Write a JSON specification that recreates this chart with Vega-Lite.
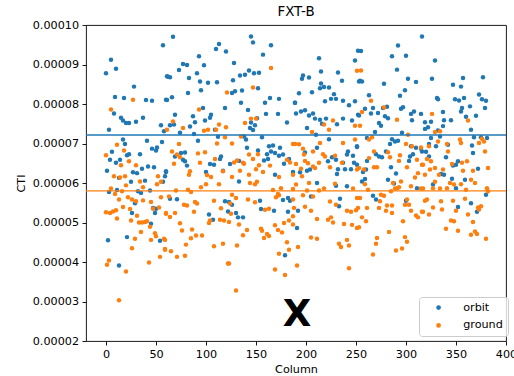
{
  "$schema": "https://vega.github.io/schema/vega-lite/v6.json",
  "width": 420,
  "height": 316,
  "autosize": "none",
  "padding": {"left": 86, "top": 25, "right": 8, "bottom": 35},
  "background": "white",
  "config": {
    "font": "DejaVu Sans",
    "view": {"stroke": "#000", "strokeWidth": 0.9},
    "axis": {
      "grid": false,
      "domain": false,
      "tickColor": "#000",
      "tickWidth": 0.9,
      "tickSize": 4,
      "labelColor": "#000",
      "labelFontSize": 11.2,
      "labelPadding": 3.5,
      "labelFlush": false,
      "labelOverlap": false,
      "titleColor": "#000",
      "titleFontSize": 11.2,
      "titleFontWeight": "normal"
    }
  },
  "title": {"text": "FXT-B", "fontSize": 13.4, "fontWeight": "normal", "color": "#000", "offset": 1},
  "datasets": {
    "orbit": [
      {"c":57,"v":9.49e-5},{"c":5,"v":9.12e-5},{"c":0,"v":8.78e-5},{"c":10,"v":8.89e-5},{"c":61,"v":8.70e-5},{"c":28,"v":8.44e-5},{"c":9,"v":8.18e-5},{"c":18,"v":8.15e-5},{"c":40,"v":8.10e-5},{"c":46,"v":8.08e-5},
      {"c":60,"v":8.11e-5},{"c":8,"v":7.76e-5},{"c":15,"v":7.65e-5},{"c":17,"v":7.58e-5},{"c":20,"v":7.52e-5},{"c":23,"v":7.52e-5},{"c":30,"v":7.55e-5},{"c":37,"v":7.65e-5},{"c":3,"v":7.35e-5},{"c":55,"v":7.46e-5},
      {"c":58,"v":7.31e-5},{"c":56,"v":7.04e-5},{"c":17,"v":7.10e-5},{"c":19,"v":6.99e-5},{"c":41,"v":7.07e-5},{"c":51,"v":6.90e-5},{"c":46,"v":6.87e-5},{"c":50,"v":6.82e-5},{"c":6,"v":6.79e-5},{"c":23,"v":6.73e-5},
      {"c":21,"v":6.70e-5},{"c":34,"v":6.73e-5},{"c":4,"v":6.59e-5},{"c":10,"v":6.51e-5},{"c":14,"v":6.59e-5},{"c":48,"v":6.40e-5},{"c":42,"v":6.42e-5},{"c":1,"v":6.31e-5},{"c":27,"v":6.27e-5},{"c":31,"v":6.25e-5},
      {"c":36,"v":6.36e-5},{"c":60,"v":6.28e-5},{"c":59,"v":6.17e-5},{"c":13,"v":6.13e-5},{"c":25,"v":6.03e-5},{"c":39,"v":6.06e-5},{"c":57,"v":6.03e-5},{"c":3,"v":5.77e-5},{"c":11,"v":5.82e-5},{"c":32,"v":5.79e-5},
      {"c":35,"v":5.75e-5},{"c":44,"v":5.81e-5},{"c":29,"v":5.49e-5},{"c":47,"v":5.37e-5},{"c":50,"v":5.35e-5},{"c":45,"v":4.97e-5},{"c":49,"v":5.24e-5},{"c":26,"v":5.24e-5},{"c":2,"v":4.55e-5},{"c":21,"v":4.63e-5},
      {"c":54,"v":4.54e-5},{"c":13,"v":3.91e-5},
      {"c":67,"v":9.70e-5},{"c":113,"v":9.52e-5},{"c":110,"v":9.39e-5},{"c":120,"v":9.33e-5},{"c":93,"v":9.21e-5},{"c":77,"v":9.01e-5},{"c":81,"v":8.99e-5},{"c":98,"v":8.98e-5},{"c":73,"v":8.86e-5},{"c":62,"v":8.69e-5},
      {"c":64,"v":8.68e-5},{"c":91,"v":8.78e-5},{"c":83,"v":8.66e-5},{"c":94,"v":8.57e-5},{"c":102,"v":8.54e-5},{"c":111,"v":8.55e-5},{"c":95,"v":8.35e-5},{"c":82,"v":8.28e-5},{"c":61,"v":8.10e-5},{"c":66,"v":8.17e-5},
      {"c":97,"v":7.90e-5},{"c":119,"v":7.90e-5},{"c":69,"v":7.73e-5},{"c":87,"v":7.69e-5},{"c":105,"v":7.73e-5},{"c":104,"v":7.65e-5},{"c":99,"v":7.58e-5},{"c":89,"v":7.54e-5},{"c":64,"v":7.46e-5},{"c":68,"v":7.48e-5},
      {"c":84,"v":7.43e-5},{"c":109,"v":7.35e-5},{"c":74,"v":7.27e-5},{"c":88,"v":7.24e-5},{"c":112,"v":7.17e-5},{"c":92,"v":7.07e-5},{"c":79,"v":6.77e-5},{"c":75,"v":6.76e-5},{"c":69,"v":6.67e-5},{"c":77,"v":6.59e-5},
      {"c":79,"v":6.55e-5},{"c":81,"v":6.44e-5},{"c":104,"v":6.48e-5},{"c":108,"v":6.46e-5},{"c":114,"v":6.61e-5},{"c":115,"v":6.67e-5},{"c":117,"v":6.31e-5},{"c":124,"v":6.48e-5},{"c":100,"v":6.28e-5},{"c":60,"v":6.30e-5},
      {"c":64,"v":5.60e-5},{"c":71,"v":5.59e-5},{"c":119,"v":5.54e-5},{"c":123,"v":5.52e-5},{"c":122,"v":5.28e-5},{"c":103,"v":5.20e-5},{"c":107,"v":5.07e-5},
      {"c":145,"v":9.71e-5},{"c":147,"v":9.56e-5},{"c":165,"v":9.49e-5},{"c":157,"v":9.25e-5},{"c":128,"v":9.04e-5},{"c":127,"v":8.60e-5},{"c":134,"v":8.72e-5},{"c":139,"v":8.74e-5},{"c":143,"v":8.85e-5},{"c":148,"v":8.78e-5},
      {"c":153,"v":8.79e-5},{"c":152,"v":8.40e-5},{"c":126,"v":8.28e-5},{"c":129,"v":8.32e-5},{"c":136,"v":8.34e-5},{"c":135,"v":8.03e-5},{"c":159,"v":8.03e-5},{"c":164,"v":8.15e-5},{"c":173,"v":8.13e-5},{"c":189,"v":8.03e-5},
      {"c":142,"v":7.85e-5},{"c":160,"v":7.75e-5},{"c":172,"v":7.75e-5},{"c":151,"v":7.64e-5},{"c":145,"v":7.53e-5},{"c":149,"v":7.46e-5},{"c":144,"v":7.39e-5},{"c":147,"v":7.34e-5},{"c":181,"v":7.53e-5},{"c":138,"v":7.18e-5},
      {"c":140,"v":7.10e-5},{"c":156,"v":7.16e-5},{"c":141,"v":6.89e-5},{"c":152,"v":6.82e-5},{"c":163,"v":6.93e-5},{"c":167,"v":6.95e-5},{"c":174,"v":6.89e-5},{"c":161,"v":6.73e-5},{"c":165,"v":6.80e-5},{"c":169,"v":6.76e-5},
      {"c":173,"v":6.69e-5},{"c":177,"v":6.72e-5},{"c":133,"v":6.56e-5},{"c":158,"v":6.57e-5},{"c":162,"v":6.61e-5},{"c":178,"v":6.49e-5},{"c":183,"v":6.61e-5},{"c":187,"v":6.28e-5},{"c":169,"v":6.21e-5},{"c":133,"v":6.04e-5},
      {"c":154,"v":5.55e-5},{"c":177,"v":5.57e-5},{"c":182,"v":5.62e-5},{"c":184,"v":5.55e-5},{"c":126,"v":5.45e-5},{"c":130,"v":5.24e-5},{"c":155,"v":5.34e-5},{"c":168,"v":5.30e-5},{"c":182,"v":5.27e-5},{"c":132,"v":5.13e-5},
      {"c":137,"v":5.13e-5},{"c":179,"v":4.17e-5},
      {"c":252,"v":9.35e-5},{"c":213,"v":9.16e-5},{"c":249,"v":9.10e-5},{"c":215,"v":8.82e-5},{"c":232,"v":8.80e-5},{"c":197,"v":8.72e-5},{"c":196,"v":8.64e-5},{"c":203,"v":8.67e-5},{"c":236,"v":8.59e-5},{"c":253,"v":8.57e-5},
      {"c":215,"v":8.52e-5},{"c":218,"v":8.43e-5},{"c":223,"v":8.42e-5},{"c":193,"v":8.27e-5},{"c":206,"v":8.30e-5},{"c":228,"v":8.25e-5},{"c":214,"v":8.40e-5},{"c":225,"v":8.13e-5},{"c":230,"v":8.13e-5},{"c":219,"v":8.07e-5},
      {"c":237,"v":8.08e-5},{"c":249,"v":8.07e-5},{"c":243,"v":7.97e-5},{"c":189,"v":8.03e-5},{"c":195,"v":7.81e-5},{"c":199,"v":7.84e-5},{"c":190,"v":7.76e-5},{"c":203,"v":7.71e-5},{"c":207,"v":7.76e-5},{"c":209,"v":7.63e-5},
      {"c":214,"v":7.60e-5},{"c":220,"v":7.63e-5},{"c":237,"v":7.63e-5},{"c":246,"v":7.58e-5},{"c":252,"v":7.73e-5},{"c":216,"v":7.50e-5},{"c":231,"v":7.49e-5},{"c":201,"v":7.39e-5},{"c":210,"v":7.22e-5},{"c":223,"v":7.11e-5},
      {"c":251,"v":6.91e-5},{"c":211,"v":6.89e-5},{"c":199,"v":6.77e-5},{"c":242,"v":6.80e-5},{"c":247,"v":6.69e-5},{"c":241,"v":6.72e-5},{"c":226,"v":6.65e-5},{"c":222,"v":6.55e-5},{"c":230,"v":6.59e-5},{"c":248,"v":6.51e-5},
      {"c":237,"v":6.51e-5},{"c":201,"v":6.31e-5},{"c":204,"v":6.34e-5},{"c":194,"v":6.27e-5},{"c":232,"v":6.35e-5},{"c":239,"v":6.35e-5},{"c":245,"v":6.35e-5},{"c":251,"v":6.46e-5},{"c":231,"v":6.23e-5},{"c":211,"v":6.00e-5},
      {"c":230,"v":5.93e-5},{"c":241,"v":5.92e-5},{"c":205,"v":5.66e-5},{"c":234,"v":5.60e-5},{"c":233,"v":5.41e-5},{"c":192,"v":5.30e-5},{"c":191,"v":4.86e-5},
      {"c":316,"v":9.71e-5},{"c":255,"v":9.34e-5},{"c":292,"v":9.48e-5},{"c":286,"v":9.21e-5},{"c":300,"v":9.22e-5},{"c":291,"v":8.87e-5},{"c":254,"v":8.59e-5},{"c":256,"v":8.57e-5},{"c":302,"v":8.64e-5},{"c":310,"v":8.56e-5},
      {"c":278,"v":8.51e-5},{"c":299,"v":8.35e-5},{"c":294,"v":8.21e-5},{"c":263,"v":8.22e-5},{"c":281,"v":7.93e-5},{"c":267,"v":7.90e-5},{"c":259,"v":7.88e-5},{"c":277,"v":7.90e-5},{"c":295,"v":7.88e-5},{"c":297,"v":7.92e-5},
      {"c":308,"v":7.81e-5},{"c":315,"v":7.75e-5},{"c":265,"v":7.76e-5},{"c":272,"v":7.77e-5},{"c":253,"v":7.71e-5},{"c":279,"v":7.69e-5},{"c":282,"v":7.64e-5},{"c":305,"v":7.75e-5},{"c":306,"v":7.59e-5},{"c":273,"v":7.52e-5},
      {"c":275,"v":7.45e-5},{"c":269,"v":7.29e-5},{"c":296,"v":7.27e-5},{"c":261,"v":7.14e-5},{"c":286,"v":7.11e-5},{"c":289,"v":7.05e-5},{"c":292,"v":7.07e-5},{"c":284,"v":6.99e-5},{"c":305,"v":6.93e-5},{"c":310,"v":6.89e-5},
      {"c":315,"v":6.87e-5},{"c":251,"v":6.93e-5},{"c":280,"v":6.80e-5},{"c":270,"v":6.73e-5},{"c":273,"v":6.67e-5},{"c":276,"v":6.65e-5},{"c":304,"v":6.67e-5},{"c":307,"v":6.73e-5},{"c":303,"v":6.56e-5},{"c":261,"v":6.56e-5},
      {"c":260,"v":6.34e-5},{"c":257,"v":6.28e-5},{"c":285,"v":6.40e-5},{"c":290,"v":6.24e-5},{"c":282,"v":6.08e-5},{"c":259,"v":6.10e-5},{"c":256,"v":6.04e-5},{"c":288,"v":5.99e-5},{"c":267,"v":5.68e-5},{"c":270,"v":5.58e-5},
      {"c":300,"v":5.55e-5},{"c":311,"v":5.87e-5},
      {"c":329,"v":9.10e-5},{"c":326,"v":8.64e-5},{"c":357,"v":8.66e-5},{"c":377,"v":8.68e-5},{"c":347,"v":8.49e-5},{"c":355,"v":8.44e-5},{"c":331,"v":8.15e-5},{"c":332,"v":8.12e-5},{"c":373,"v":8.24e-5},{"c":349,"v":8.12e-5},
      {"c":353,"v":8.09e-5},{"c":358,"v":8.15e-5},{"c":376,"v":8.12e-5},{"c":380,"v":8.08e-5},{"c":379,"v":7.90e-5},{"c":364,"v":7.94e-5},{"c":356,"v":7.90e-5},{"c":355,"v":7.81e-5},{"c":360,"v":7.68e-5},{"c":370,"v":7.70e-5},
      {"c":337,"v":7.80e-5},{"c":345,"v":7.59e-5},{"c":338,"v":7.59e-5},{"c":325,"v":7.55e-5},{"c":319,"v":7.54e-5},{"c":337,"v":7.44e-5},{"c":322,"v":7.41e-5},{"c":319,"v":7.37e-5},{"c":332,"v":7.33e-5},{"c":365,"v":7.35e-5},
      {"c":334,"v":7.18e-5},{"c":325,"v":7.14e-5},{"c":368,"v":7.16e-5},{"c":375,"v":7.16e-5},{"c":381,"v":7.14e-5},{"c":323,"v":6.99e-5},{"c":330,"v":6.93e-5},{"c":342,"v":6.97e-5},{"c":366,"v":6.95e-5},{"c":316,"v":6.80e-5},
      {"c":320,"v":6.79e-5},{"c":367,"v":6.76e-5},{"c":323,"v":6.67e-5},{"c":340,"v":6.65e-5},{"c":350,"v":6.46e-5},{"c":347,"v":6.44e-5},{"c":352,"v":6.55e-5},{"c":372,"v":6.36e-5},{"c":335,"v":6.23e-5},{"c":338,"v":6.21e-5},
      {"c":346,"v":6.11e-5},{"c":359,"v":6.08e-5},{"c":327,"v":5.96e-5},{"c":350,"v":5.87e-5},{"c":380,"v":5.70e-5},{"c":365,"v":5.49e-5},{"c":352,"v":5.39e-5},{"c":371,"v":5.27e-5}
    ],
    "ground": [
      {"c":27,"v":8.11e-5},{"c":5,"v":7.86e-5},{"c":11,"v":6.97e-5},{"c":0,"v":6.70e-5},{"c":18,"v":6.82e-5},{"c":23,"v":6.55e-5},{"c":15,"v":6.45e-5},{"c":30,"v":6.45e-5},{"c":8,"v":6.17e-5},{"c":19,"v":6.17e-5},
      {"c":14,"v":6.14e-5},{"c":52,"v":6.17e-5},{"c":20,"v":5.94e-5},{"c":34,"v":6.04e-5},{"c":37,"v":5.89e-5},{"c":51,"v":5.97e-5},{"c":55,"v":6.03e-5},{"c":5,"v":5.86e-5},{"c":9,"v":5.72e-5},{"c":16,"v":5.79e-5},
      {"c":13,"v":5.58e-5},{"c":22,"v":5.64e-5},{"c":26,"v":5.58e-5},{"c":30,"v":5.54e-5},{"c":37,"v":5.56e-5},{"c":45,"v":5.52e-5},{"c":55,"v":5.64e-5},{"c":17,"v":5.39e-5},{"c":24,"v":5.34e-5},{"c":47,"v":5.35e-5},
      {"c":53,"v":5.38e-5},{"c":0,"v":5.26e-5},{"c":4,"v":5.24e-5},{"c":7,"v":5.28e-5},{"c":10,"v":5.31e-5},{"c":60,"v":5.22e-5},{"c":11,"v":5.10e-5},{"c":25,"v":5.05e-5},{"c":31,"v":5.17e-5},{"c":33,"v":5.00e-5},
      {"c":36,"v":5.00e-5},{"c":39,"v":5.01e-5},{"c":41,"v":5.03e-5},{"c":44,"v":4.89e-5},{"c":35,"v":4.76e-5},{"c":29,"v":4.59e-5},{"c":45,"v":4.56e-5},{"c":49,"v":4.73e-5},{"c":50,"v":4.65e-5},{"c":58,"v":4.59e-5},
      {"c":26,"v":4.35e-5},{"c":59,"v":4.31e-5},{"c":54,"v":4.13e-5},{"c":3,"v":4.04e-5},{"c":1,"v":3.93e-5},{"c":43,"v":3.99e-5},{"c":20,"v":3.76e-5},{"c":13,"v":3.03e-5},
      {"c":121,"v":8.29e-5},{"c":93,"v":7.86e-5},{"c":67,"v":7.56e-5},{"c":61,"v":7.35e-5},{"c":77,"v":7.39e-5},{"c":113,"v":7.48e-5},{"c":120,"v":7.41e-5},{"c":98,"v":7.32e-5},{"c":102,"v":7.35e-5},{"c":110,"v":7.35e-5},
      {"c":73,"v":6.99e-5},{"c":111,"v":7.00e-5},{"c":119,"v":7.16e-5},{"c":66,"v":6.80e-5},{"c":92,"v":6.75e-5},{"c":99,"v":6.78e-5},{"c":71,"v":6.72e-5},{"c":74,"v":6.65e-5},{"c":68,"v":6.49e-5},{"c":94,"v":6.51e-5},
      {"c":109,"v":6.61e-5},{"c":84,"v":6.30e-5},{"c":83,"v":6.21e-5},{"c":101,"v":6.20e-5},{"c":105,"v":6.15e-5},{"c":113,"v":5.97e-5},{"c":117,"v":6.30e-5},{"c":95,"v":5.89e-5},{"c":100,"v":5.97e-5},{"c":70,"v":5.81e-5},
      {"c":82,"v":5.83e-5},{"c":85,"v":5.77e-5},{"c":63,"v":5.66e-5},{"c":78,"v":5.45e-5},{"c":81,"v":5.43e-5},{"c":89,"v":5.52e-5},{"c":91,"v":5.48e-5},{"c":108,"v":5.55e-5},{"c":115,"v":5.36e-5},{"c":60,"v":5.24e-5},
      {"c":64,"v":5.14e-5},{"c":69,"v":5.24e-5},{"c":88,"v":5.27e-5},{"c":103,"v":4.99e-5},{"c":104,"v":5.05e-5},{"c":114,"v":5.07e-5},{"c":118,"v":5.05e-5},{"c":123,"v":5.01e-5},{"c":74,"v":4.98e-5},{"c":76,"v":4.80e-5},
      {"c":86,"v":4.82e-5},{"c":90,"v":4.67e-5},{"c":96,"v":4.67e-5},{"c":85,"v":4.60e-5},{"c":80,"v":4.44e-5},{"c":108,"v":4.40e-5},{"c":117,"v":4.46e-5},{"c":59,"v":4.56e-5},{"c":65,"v":4.27e-5},{"c":71,"v":4.13e-5},
      {"c":79,"v":4.16e-5},{"c":122,"v":3.96e-5},{"c":59,"v":4.33e-5},
      {"c":165,"v":8.91e-5},{"c":147,"v":8.42e-5},{"c":145,"v":7.63e-5},{"c":150,"v":7.63e-5},{"c":139,"v":7.52e-5},{"c":135,"v":7.18e-5},{"c":126,"v":7.00e-5},{"c":187,"v":6.99e-5},{"c":143,"v":6.72e-5},{"c":147,"v":6.61e-5},
      {"c":152,"v":6.73e-5},{"c":128,"v":6.52e-5},{"c":131,"v":6.57e-5},{"c":137,"v":6.51e-5},{"c":138,"v":6.49e-5},{"c":153,"v":6.45e-5},{"c":164,"v":6.44e-5},{"c":181,"v":6.59e-5},{"c":184,"v":6.52e-5},{"c":150,"v":6.35e-5},
      {"c":157,"v":6.28e-5},{"c":134,"v":6.31e-5},{"c":143,"v":6.21e-5},{"c":126,"v":6.15e-5},{"c":173,"v":6.15e-5},{"c":144,"v":6.00e-5},{"c":149,"v":5.97e-5},{"c":151,"v":6.03e-5},{"c":167,"v":5.82e-5},{"c":175,"v":5.87e-5},
      {"c":187,"v":5.85e-5},{"c":172,"v":5.72e-5},{"c":126,"v":5.70e-5},{"c":130,"v":5.62e-5},{"c":142,"v":5.58e-5},{"c":149,"v":5.51e-5},{"c":170,"v":5.64e-5},{"c":173,"v":5.69e-5},{"c":187,"v":5.58e-5},{"c":124,"v":5.48e-5},
      {"c":159,"v":5.32e-5},{"c":163,"v":5.35e-5},{"c":125,"v":5.22e-5},{"c":188,"v":5.37e-5},{"c":133,"v":4.95e-5},{"c":141,"v":4.81e-5},{"c":137,"v":4.68e-5},{"c":155,"v":4.84e-5},{"c":156,"v":4.79e-5},{"c":161,"v":4.71e-5},
      {"c":163,"v":4.66e-5},{"c":158,"v":4.61e-5},{"c":169,"v":4.93e-5},{"c":172,"v":4.81e-5},{"c":176,"v":4.75e-5},{"c":178,"v":4.99e-5},{"c":183,"v":5.05e-5},{"c":187,"v":4.95e-5},{"c":131,"v":4.42e-5},{"c":181,"v":4.50e-5},
      {"c":183,"v":4.31e-5},{"c":173,"v":4.21e-5},{"c":123,"v":3.96e-5},{"c":169,"v":3.81e-5},{"c":179,"v":3.67e-5},{"c":130,"v":3.28e-5},
      {"c":251,"v":8.84e-5},{"c":227,"v":7.58e-5},{"c":218,"v":7.48e-5},{"c":223,"v":7.35e-5},{"c":249,"v":7.45e-5},{"c":206,"v":7.29e-5},{"c":189,"v":6.99e-5},{"c":193,"v":6.98e-5},{"c":214,"v":7.01e-5},{"c":237,"v":7.01e-5},
      {"c":249,"v":7.10e-5},{"c":197,"v":6.87e-5},{"c":207,"v":6.80e-5},{"c":198,"v":6.72e-5},{"c":217,"v":6.73e-5},{"c":219,"v":6.67e-5},{"c":229,"v":6.69e-5},{"c":190,"v":6.48e-5},{"c":199,"v":6.56e-5},{"c":202,"v":6.50e-5},
      {"c":207,"v":6.42e-5},{"c":209,"v":6.38e-5},{"c":213,"v":6.51e-5},{"c":224,"v":6.40e-5},{"c":236,"v":6.51e-5},{"c":251,"v":6.34e-5},{"c":195,"v":6.36e-5},{"c":196,"v":6.17e-5},{"c":187,"v":6.21e-5},{"c":203,"v":6.00e-5},
      {"c":190,"v":5.96e-5},{"c":213,"v":5.81e-5},{"c":218,"v":5.86e-5},{"c":229,"v":5.98e-5},{"c":247,"v":5.86e-5},{"c":201,"v":5.81e-5},{"c":197,"v":5.69e-5},{"c":207,"v":5.66e-5},{"c":251,"v":5.62e-5},{"c":230,"v":5.45e-5},
      {"c":224,"v":5.53e-5},{"c":199,"v":5.40e-5},{"c":205,"v":5.30e-5},{"c":241,"v":5.30e-5},{"c":245,"v":5.27e-5},{"c":250,"v":5.31e-5},{"c":211,"v":5.09e-5},{"c":222,"v":5.07e-5},{"c":225,"v":5.13e-5},{"c":227,"v":5.00e-5},
      {"c":238,"v":4.96e-5},{"c":246,"v":4.94e-5},{"c":251,"v":4.86e-5},{"c":187,"v":5.16e-5},{"c":205,"v":4.62e-5},{"c":211,"v":4.59e-5},{"c":241,"v":4.56e-5},{"c":233,"v":4.46e-5},{"c":235,"v":4.38e-5},{"c":243,"v":4.42e-5},
      {"c":192,"v":4.38e-5},{"c":191,"v":3.91e-5},{"c":243,"v":3.84e-5},
      {"c":255,"v":8.85e-5},{"c":265,"v":8.08e-5},{"c":256,"v":7.80e-5},{"c":278,"v":7.91e-5},{"c":291,"v":7.60e-5},{"c":254,"v":7.45e-5},{"c":263,"v":7.10e-5},{"c":266,"v":7.16e-5},{"c":302,"v":7.22e-5},{"c":300,"v":6.99e-5},
      {"c":306,"v":6.93e-5},{"c":315,"v":6.90e-5},{"c":311,"v":6.59e-5},{"c":268,"v":6.80e-5},{"c":282,"v":6.78e-5},{"c":294,"v":6.70e-5},{"c":263,"v":6.63e-5},{"c":284,"v":6.65e-5},{"c":293,"v":6.56e-5},{"c":253,"v":6.38e-5},
      {"c":268,"v":6.40e-5},{"c":271,"v":6.40e-5},{"c":258,"v":6.34e-5},{"c":301,"v":6.40e-5},{"c":316,"v":6.46e-5},{"c":312,"v":6.25e-5},{"c":309,"v":6.14e-5},{"c":295,"v":6.04e-5},{"c":305,"v":5.92e-5},{"c":259,"v":5.97e-5},
      {"c":287,"v":6.00e-5},{"c":289,"v":5.86e-5},{"c":291,"v":5.87e-5},{"c":293,"v":5.89e-5},{"c":315,"v":5.86e-5},{"c":262,"v":5.83e-5},{"c":285,"v":5.79e-5},{"c":254,"v":5.62e-5},{"c":275,"v":5.70e-5},{"c":278,"v":5.68e-5},
      {"c":274,"v":5.54e-5},{"c":281,"v":5.43e-5},{"c":286,"v":5.43e-5},{"c":280,"v":5.30e-5},{"c":273,"v":5.37e-5},{"c":261,"v":5.37e-5},{"c":301,"v":5.58e-5},{"c":299,"v":5.45e-5},{"c":303,"v":5.45e-5},{"c":305,"v":5.30e-5},
      {"c":310,"v":5.18e-5},{"c":312,"v":5.13e-5},{"c":317,"v":5.27e-5},{"c":252,"v":5.37e-5},{"c":256,"v":5.13e-5},{"c":260,"v":5.03e-5},{"c":253,"v":4.88e-5},{"c":286,"v":5.24e-5},{"c":297,"v":5.03e-5},{"c":283,"v":4.76e-5},
      {"c":271,"v":4.61e-5},{"c":270,"v":4.46e-5},{"c":267,"v":4.19e-5},{"c":299,"v":4.63e-5},{"c":301,"v":4.51e-5},{"c":296,"v":4.34e-5},{"c":290,"v":4.29e-5},
      {"c":326,"v":7.75e-5},{"c":362,"v":7.58e-5},{"c":329,"v":7.29e-5},{"c":334,"v":7.31e-5},{"c":354,"v":7.10e-5},{"c":355,"v":7.01e-5},{"c":376,"v":7.12e-5},{"c":378,"v":7.05e-5},{"c":373,"v":7.01e-5},{"c":332,"v":7.05e-5},
      {"c":341,"v":6.99e-5},{"c":323,"v":6.93e-5},{"c":379,"v":6.80e-5},{"c":342,"v":6.80e-5},{"c":321,"v":6.61e-5},{"c":325,"v":6.55e-5},{"c":317,"v":6.46e-5},{"c":329,"v":6.38e-5},{"c":319,"v":6.21e-5},{"c":324,"v":6.34e-5},
      {"c":337,"v":6.34e-5},{"c":346,"v":6.48e-5},{"c":356,"v":6.51e-5},{"c":361,"v":6.55e-5},{"c":357,"v":6.31e-5},{"c":367,"v":6.31e-5},{"c":382,"v":6.38e-5},{"c":333,"v":6.21e-5},{"c":329,"v":6.03e-5},{"c":344,"v":6.00e-5},
      {"c":348,"v":5.96e-5},{"c":365,"v":6.08e-5},{"c":369,"v":6.00e-5},{"c":355,"v":5.97e-5},{"c":341,"v":5.87e-5},{"c":317,"v":5.86e-5},{"c":327,"v":5.87e-5},{"c":334,"v":5.86e-5},{"c":360,"v":5.83e-5},{"c":381,"v":5.87e-5},
      {"c":382,"v":5.79e-5},{"c":319,"v":5.55e-5},{"c":321,"v":5.58e-5},{"c":335,"v":5.54e-5},{"c":347,"v":5.55e-5},{"c":359,"v":5.60e-5},{"c":372,"v":5.38e-5},{"c":375,"v":5.41e-5},{"c":336,"v":5.33e-5},{"c":350,"v":5.30e-5},
      {"c":327,"v":5.38e-5},{"c":316,"v":5.27e-5},{"c":323,"v":5.20e-5},{"c":362,"v":5.20e-5},{"c":373,"v":5.33e-5},{"c":345,"v":5.05e-5},{"c":348,"v":5.03e-5},{"c":367,"v":5.01e-5},{"c":340,"v":4.84e-5},{"c":352,"v":4.79e-5},
      {"c":365,"v":4.69e-5},{"c":369,"v":4.77e-5},{"c":371,"v":4.71e-5},{"c":380,"v":4.59e-5}
    ]
  },
  "layer": [
    {
      "data": {"name": "orbit"},
      "mark": {"type": "point", "filled": true, "size": 20, "opacity": 1},
      "encoding": {
        "x": {
          "field": "c", "type": "quantitative", "title": "Column",
          "scale": {"domain": [-20, 400], "nice": false, "zero": false},
          "axis": {"values": [0, 50, 100, 150, 200, 250, 300, 350, 400], "tickCount": 12, "titlePadding": 4, "labelOverlap": false}
        },
        "y": {
          "field": "v", "type": "quantitative", "title": "CTI",
          "scale": {"domain": [0.00002, 0.0001], "nice": false, "zero": false},
          "axis": {
            "values": [0.00002, 0.00003, 0.00004, 0.00005, 0.00006, 0.00007, 0.00008, 0.00009, 0.0001],
            "tickCount": 12,
            "format": ".5f",
            "labelOverlap": false,
            "titlePadding": 6
          }
        },
        "color": {
          "datum": "orbit", "type": "nominal",
          "scale": {"domain": ["orbit", "ground"], "range": ["#1f77b4", "#ff7f0e"]},
          "legend": {
            "title": null,
            "orient": "none",
            "legendX": 333,
            "legendY": 272,
            "padding": 5,
            "symbolOffset": 9,
            "symbolType": "circle",
            "symbolSize": 22,
            "symbolStrokeWidth": 0,
            "labelFontSize": 11.2,
            "labelColor": "#000",
            "labelOffset": 19,
            "rowPadding": 5.8,
            "fillColor": "rgba(255,255,255,0.8)",
            "strokeColor": "#cccccc",
            "cornerRadius": 3
          }
        }
      }
    },
    {
      "data": {"name": "ground"},
      "mark": {"type": "point", "filled": true, "size": 20, "opacity": 1},
      "encoding": {
        "x": {"field": "c", "type": "quantitative"},
        "y": {"field": "v", "type": "quantitative"},
        "color": {"datum": "ground", "type": "nominal"}
      }
    },
    {
      "data": {"values": [{}]},
      "mark": {"type": "rule", "color": "#1f77b4", "strokeWidth": 1.3},
      "encoding": {"y": {"datum": 0.00007215, "type": "quantitative"}}
    },
    {
      "data": {"values": [{}]},
      "mark": {"type": "rule", "color": "#ff7f0e", "strokeWidth": 1.3},
      "encoding": {"y": {"datum": 0.0000580, "type": "quantitative"}}
    },
    {
      "data": {"values": [{}]},
      "mark": {"type": "text", "text": "X", "fontSize": 37, "fontWeight": "bold", "color": "#000", "align": "center", "baseline": "middle"},
      "encoding": {
        "x": {"datum": 191, "type": "quantitative"},
        "y": {"datum": 0.0000267, "type": "quantitative"}
      }
    }
  ]
}
